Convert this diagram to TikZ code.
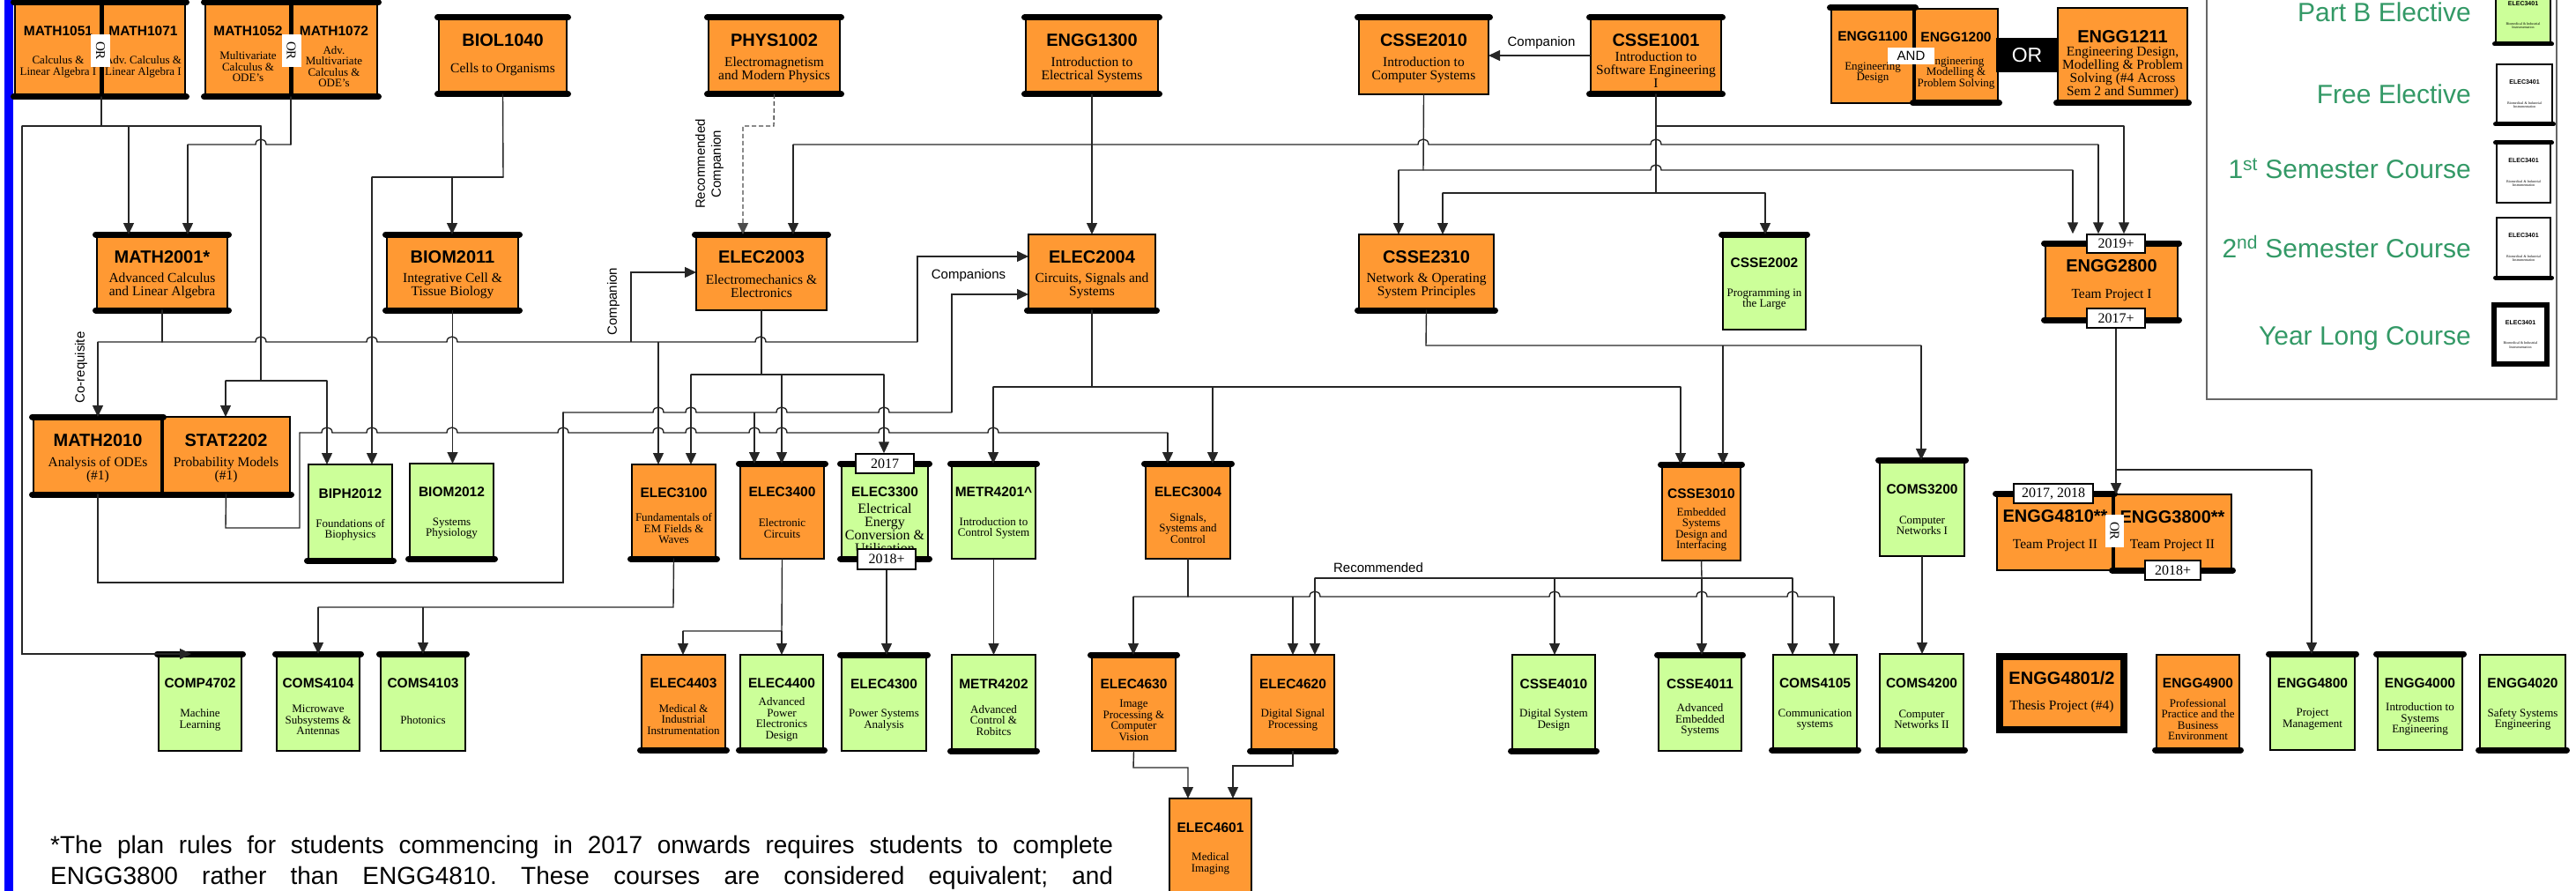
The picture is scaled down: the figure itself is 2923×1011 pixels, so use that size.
\documentclass[tikz,border=0pt]{standalone}
\usepackage{fontspec}
\setmainfont{Liberation Serif}
\setsansfont{Liberation Sans}
\usetikzlibrary{arrows.meta}
\definecolor{orng}{RGB}{255,153,51}
\definecolor{grn}{RGB}{204,255,153}
\definecolor{lgtxt}{RGB}{51,153,102}
\frenchspacing
\tikzset{
 crsbox/.style={draw=black, line width=2.5pt, inner sep=0pt, outer sep=0pt},
 fillO/.style={fill=orng}, fillG/.style={fill=grn}, fillW/.style={fill=white},
 txt/.style={inner sep=0pt, align=center, text=black},
 codeL/.style={font=\sffamily\bfseries\fontsize{20}{22}\selectfont},
 codeS/.style={font=\sffamily\bfseries\fontsize{15.5}{17}\selectfont},
 codeE/.style={codeS},
 codeT/.style={font=\sffamily\bfseries\fontsize{7}{8}\selectfont},
 descL/.style={font=\fontsize{15.5}{15}\selectfont},
 descS/.style={font=\fontsize{13}{12.5}\selectfont},
 descE/.style={font=\fontsize{16}{15}\selectfont},
 descT/.style={font=\fontsize{4}{4.5}\selectfont},
 thickbar/.style={line width=7pt, line cap=round, draw=black},
 conn/.style={draw=black!85, line width=1.4pt, line cap=round},
 arr/.style={draw=black!85, line width=1.4pt, -{Triangle[length=13pt,width=12pt]}},
 yr/.style={draw=black, line width=1.5pt, fill=white, inner sep=0pt, font=\fontsize{16}{18}\selectfont},
 orv/.style={fill=white, inner sep=0pt, rotate=-90, font=\fontsize{15}{16}\selectfont},
 lab/.style={inner sep=0pt, font=\sffamily\fontsize{15}{18}\selectfont},
 legtxt/.style={anchor=base east, inner sep=0pt, text=lgtxt, font=\sffamily\fontsize{30}{32}\selectfont},
 legline/.style={draw=black!60, line width=1.5pt},
 fnote/.style={anchor=base west, inner sep=0pt, font=\sffamily\fontsize{28}{30}\selectfont},
}
\newcommand\hjump[2]{-- ({#1-6},#2) .. controls ({#1-6},{#2-8}) and ({#1+6},{#2-8}) .. ({#1+6},#2)}
\newcommand\course[9]{%
 \node[crsbox, fill#6, minimum width={#4-#2}, minimum height={#5-#3}] (#1) at ({(#2+#4)/2},{(#3+#5)/2}) {};
 \node[txt, code#7] (#1c) at ({(#2+#4)/2},{#3+0.3*(#5-#3)}) {#8};
 \node[txt, desc#7] (#1d) at ({(#2+#4)/2},{#3+0.68*(#5-#3)}) {#9};
}
\newcommand\crsTop[1]{\draw[thickbar] ([xshift=-1.5pt]#1.north west) -- ([xshift=1.5pt]#1.north east);}
\newcommand\crsBot[1]{\draw[thickbar] ([xshift=-1.5pt]#1.south west) -- ([xshift=1.5pt]#1.south east);}
\begin{document}
\begin{tikzpicture}[x=1pt,y=-1pt]
\useasboundingbox (0,0) rectangle (2923,1011);
\clip (0,0) rectangle (2923,1011);
\fill[blue] (5,0) rectangle (15,1011);
% legend frame
\draw[legline] (2504,-5) -- (2504,453) -- (2901,453) -- (2901,-5);
% ---------- courses ----------
\course{m1051}{17}{3}{115}{110}{O}{S}{MATH1051}{Calculus \&\\Linear Algebra I}
\course{m1071}{115}{3}{210}{110}{O}{S}{MATH1071}{Adv. Calculus \&\\Linear Algebra I}
\course{m1052}{233}{3}{330}{110}{O}{S}{MATH1052}{Multivariate\\Calculus \&\\ODE's}
\course{m1072}{330}{3}{428}{110}{O}{S}{MATH1072}{Adv.\\Multivariate\\Calculus \&\\ODE's}
\course{biol1040}{498}{20}{643}{107}{O}{L}{BIOL1040}{Cells to Organisms}
\course{phys1002}{804}{20}{953}{107}{O}{L}{PHYS1002}{Electromagnetism\\and Modern Physics}
\course{engg1300}{1164}{20}{1314}{107}{O}{L}{ENGG1300}{Introduction to\\Electrical Systems}
\course{csse2010}{1542}{20}{1689}{107}{O}{L}{CSSE2010}{Introduction to\\Computer Systems}
\course{csse1001}{1805}{20}{1953}{107}{O}{L}{CSSE1001}{Introduction to\\Software Engineering\\I}
\course{engg1100}{2078}{9}{2172}{117}{O}{S}{ENGG1100}{Engineering\\Design}
\course{engg1200}{2172}{10}{2267}{117}{O}{S}{ENGG1200}{Engineering\\Modelling \&\\Problem Solving}
\course{engg1211}{2335}{9}{2482}{117}{O}{L}{ENGG1211}{Engineering Design,\\Modelling \& Problem\\Solving (\#4 Across\\Sem 2 and Summer)}
\course{math2001}{110}{266}{258}{352}{O}{L}{MATH2001*}{Advanced Calculus\\and Linear Algebra}
\course{biom2011}{439}{266}{588}{352}{O}{L}{BIOM2011}{Integrative Cell \&\\Tissue Biology}
\course{elec2003}{790}{266}{938}{352}{O}{L}{ELEC2003}{Electromechanics \&\\Electronics}
\course{elec2004}{1167}{266}{1311}{352}{O}{L}{ELEC2004}{Circuits, Signals and\\Systems}
\course{csse2310}{1542}{266}{1695}{352}{O}{L}{CSSE2310}{Network \& Operating\\System Principles}
\course{csse2002}{1955}{266}{2049}{374}{G}{S}{CSSE2002}{Programming in\\the Large}
\course{engg2800}{2321}{276}{2471}{363}{O}{L}{ENGG2800}{Team Project I}
\course{math2010}{38}{473}{184}{561}{O}{L}{MATH2010}{Analysis of ODEs\\(\#1)}
\course{stat2202}{184}{473}{329}{561}{O}{L}{STAT2202}{Probability Models\\(\#1)}
\course{biph2012}{350}{527}{445}{636}{G}{S}{BIPH2012}{Foundations of\\Biophysics}
\course{biom2012}{465}{526}{560}{634}{G}{S}{BIOM2012}{Systems\\Physiology}
\course{elec3100}{717}{527}{812}{634}{O}{S}{ELEC3100}{Fundamentals of\\EM Fields \&\\Waves}
\course{elec3400}{840}{526}{935}{634}{O}{S}{ELEC3400}{Electronic\\Circuits}
\course{elec3300}{955}{526}{1053}{634}{G}{E}{ELEC3300}{Electrical\\Energy\\Conversion \&\\Utilisation}
\course{metr4201}{1080}{526}{1175}{634}{G}{S}{METR4201\textasciicircum}{Introduction to\\Control System}
\course{elec3004}{1300}{526}{1396}{634}{O}{S}{ELEC3004}{Signals,\\Systems and\\Control}
\course{csse3010}{1886}{527}{1975}{636}{O}{S}{CSSE3010}{Embedded\\Systems\\Design and\\Interfacing}
\course{coms3200}{2133}{522}{2229}{631}{G}{S}{COMS3200}{Computer\\Networks I}
\course{engg4810}{2266}{560}{2398}{647}{O}{L}{ENGG4810**}{Team Project II}
\course{engg3800}{2398}{561}{2532}{647}{O}{L}{ENGG3800**}{Team Project II}
\course{comp4702}{180}{742}{274}{852}{G}{S}{COMP4702}{Machine\\Learning}
\course{coms4104}{314}{742}{408}{852}{G}{S}{COMS4104}{Microwave\\Subsystems \&\\Antennas}
\course{coms4103}{432}{742}{528}{852}{G}{S}{COMS4103}{Photonics}
\course{elec4403}{728}{743}{823}{851}{O}{S}{ELEC4403}{Medical \&\\Industrial\\Instrumentation}
\course{elec4400}{840}{743}{934}{851}{G}{S}{ELEC4400}{Advanced\\Power\\Electronics\\Design}
\course{elec4300}{955}{743}{1051}{852}{G}{S}{ELEC4300}{Power Systems\\Analysis}
\course{metr4202}{1080}{743}{1175}{852}{G}{S}{METR4202}{Advanced\\Control \&\\Robitcs}
\course{elec4630}{1239}{743}{1334}{852}{O}{S}{ELEC4630}{Image\\Processing \&\\Computer\\Vision}
\course{elec4620}{1420}{743}{1514}{852}{O}{S}{ELEC4620}{Digital Signal\\Processing}
\course{elec4601}{1327}{906}{1420}{1015}{O}{S}{ELEC4601}{Medical\\Imaging}
\course{csse4010}{1716}{743}{1810}{852}{G}{S}{CSSE4010}{Digital System\\Design}
\course{csse4011}{1882}{743}{1976}{852}{G}{S}{CSSE4011}{Advanced\\Embedded\\Systems}
\course{coms4105}{2012}{743}{2107}{851}{G}{S}{COMS4105}{Communication\\systems}
\course{coms4200}{2133}{742}{2228}{851}{G}{S}{COMS4200}{Computer\\Networks II}
\course{engg4801}{2269}{745}{2410}{828}{O}{L}{ENGG4801/2}{Thesis Project (\#4)}
\course{engg4900}{2447}{743}{2541}{851}{O}{S}{ENGG4900}{Professional\\Practice and the\\Business\\Environment}
\course{engg4800}{2576}{742}{2672}{851}{G}{S}{ENGG4800}{Project\\Management}
\course{engg4000}{2698}{742}{2794}{851}{G}{S}{ENGG4000}{Introduction to\\Systems\\Engineering}
\course{engg4020}{2814}{743}{2911}{851}{G}{S}{ENGG4020}{Safety Systems\\Engineering}
% legend samples
\course{lgA}{2832}{-15}{2894}{50}{G}{T}{ELEC3401}{Biomedical \& Industrial\\Instrumentation}
\course{lgB}{2833}{73}{2896}{141}{W}{T}{ELEC3401}{Biomedical \& Industrial\\Instrumentation}
\course{lgC}{2833}{162}{2894}{230}{W}{T}{ELEC3401}{Biomedical \& Industrial\\Instrumentation}
\course{lgD}{2833}{247}{2894}{315}{W}{T}{ELEC3401}{Biomedical \& Industrial\\Instrumentation}
\course{lgE}{2830}{346}{2890}{413}{W}{T}{ELEC3401}{Biomedical \& Industrial\\Instrumentation}
% ---------- semester bars ----------
\draw[thickbar] ([xshift=-1.5pt]m1051.north west) -- ([xshift=1.5pt]m1071.north east);
\draw[thickbar] ([xshift=-1.5pt]m1051.south west) -- ([xshift=1.5pt]m1071.south east);
\draw[thickbar] ([xshift=-1.5pt]m1052.north west) -- ([xshift=1.5pt]m1072.north east);
\draw[thickbar] ([xshift=-1.5pt]m1052.south west) -- ([xshift=1.5pt]m1072.south east);
\draw[line width=5pt] (m1051.north east) -- (m1051.south east);
\draw[line width=5pt] (m1052.north east) -- (m1052.south east);
\draw[thickbar] ([xshift=-1.5pt]math2010.south west) -- ([xshift=1.5pt]stat2202.south east);
\draw[line width=3.5pt] (math2010.north east) -- (math2010.south east);
\draw[line width=3.5pt] (engg1100.north east) -- (engg1100.south east);
\draw[line width=3.5pt] (engg4810.north east) -- (engg4810.south east);
\crsTop{math2010}
\crsTop{biol1040}\crsBot{biol1040}
\crsTop{phys1002}\crsBot{phys1002}
\crsTop{engg1300}\crsBot{engg1300}
\crsTop{csse1001}\crsBot{csse1001}
\crsTop{math2001}\crsBot{math2001}
\crsTop{biom2011}\crsBot{biom2011}
\crsTop{engg2800}\crsBot{engg2800}
\crsTop{elec3300}\crsBot{elec3300}
\crsTop{csse2010}\crsTop{engg1100}\crsTop{elec2003}\crsTop{csse2002}
\crsTop{elec3400}\crsTop{metr4201}\crsTop{elec3004}\crsTop{csse3010}\crsTop{coms3200}\crsTop{engg4810}
\crsTop{comp4702}\crsTop{coms4104}\crsTop{coms4103}\crsTop{elec4300}\crsTop{elec4630}\crsTop{csse4011}
\crsTop{engg4800}\crsTop{engg4000}
\crsBot{engg1200}\crsBot{engg1211}\crsBot{elec2004}\crsBot{csse2310}
\crsBot{biph2012}\crsBot{biom2012}\crsBot{elec3100}\crsBot{engg3800}
\crsBot{elec4403}\crsBot{elec4400}\crsBot{metr4202}\crsBot{elec4620}\crsBot{csse4010}\crsBot{coms4105}
\crsBot{coms4200}\crsBot{engg4900}\crsBot{engg4020}
\draw[line width=8pt] (engg4801.north west) rectangle (engg4801.south east);
\draw[thickbar, line width=5pt] ([xshift=-1.5pt]lgA.south west) -- ([xshift=1.5pt]lgA.south east);
\draw[thickbar, line width=5pt] ([xshift=-1.5pt]lgB.south west) -- ([xshift=1.5pt]lgB.south east);
\draw[thickbar, line width=5pt] ([xshift=-1.5pt]lgC.north west) -- ([xshift=1.5pt]lgC.north east);
\draw[thickbar, line width=5pt] ([xshift=-1.5pt]lgD.south west) -- ([xshift=1.5pt]lgD.south east);
\draw[line width=6pt] (lgE.north west) rectangle (lgE.south east);
% ---------- connectors ----------
% MATH1051/1071
\draw[conn] (m1051.south east) -- (115,143);
\draw[conn] (25,143) -- (296,143);
\draw[arr] (146,143) -- (146,0 |- math2001.north);
\draw[arr] (25,143) -- (25,742) -- (217,0 |- comp4702.north);
\draw[conn] (296,143) -- (296,432);
\draw[conn] (256,432) -- (371,432);
\draw[arr] (256,432) -- (256,0 |- stat2202.north);
\draw[arr] (371,432) -- (371,0 |- biph2012.north);
% MATH1052/1072
\draw[conn] (m1052.south east) -- (330,164);
\draw[conn] (213,164) \hjump{296}{164} -- (330,164);
\draw[arr] (213,164) -- (213,0 |- math2001.north);
% BIOL1040
\draw[conn] (biol1040.south) -- (571,201);
\draw[conn] (422,201) -- (571,201);
\draw[arr] (513,201) -- (513,0 |- biom2011.north);
\draw[arr] (422,201) -- (422,0 |- biph2012.north);
% PHYS1002
\draw[arr, draw=black!70, dash pattern=on 5pt off 3pt] (phys1002.south) -- (878,143) -- (843,143) -- (843,0 |- elec2003.north);
% ENGG1300
\draw[arr] (engg1300.south) -- (engg1300.south |- elec2004.north);
\draw[conn] (900,164) \hjump{1615}{164} \hjump{1879}{164} -- (2381,164);
\draw[arr] (900,164) -- (900,0 |- elec2003.north);
% CSSE2010
\draw[conn] (csse2010.south) -- (1615,193);
\draw[conn] (1587,193) \hjump{1879}{193} -- (2352,193);
\draw[arr] (1587,193) -- (1587,0 |- csse2310.north);
% CSSE1001
\draw[conn] (csse1001.south) -- (1879,219);
\draw[conn] (1879,143) -- (2410,143);
\draw[conn] (1637,219) -- (2003,219);
\draw[arr] (1637,219) -- (1637,0 |- csse2310.north);
\draw[arr] (2003,219) -- (2003,0 |- csse2002.north);
\draw[arr] (csse1001.west |- 0,63) -- (csse2010.east |- 0,63);
% MATH2001
\draw[conn] (math2001.south) -- (184,388);
\draw[conn] (111,388) \hjump{296}{388} \hjump{422}{388} \hjump{513}{388} \hjump{863}{388} -- (1041,388);
\draw[arr] (111,388) -- (111,0 |- math2010.north);
\draw[arr] (716,388) -- (716,309) -- (elec2003.west |- 0,309);
\draw[arr] (747,388) -- (747,0 |- elec3100.north);
\draw[arr] (1041,388) -- (1041,291) -- (elec2004.west |- 0,291);
% ELEC2003
\draw[conn] (elec2003.south) -- (elec2003.south |- 0,425);
\draw[conn] (784,425) -- (1003,425);
\draw[arr] (784,425) -- (784,0 |- elec3100.north);
\draw[arr] (887,425) -- (887,0 |- elec3400.north);
% MATH2010
\draw[conn] (math2010.south) -- (111,661) -- (639,661) -- (639,468);
\draw[conn] (639,468) \hjump{747}{468} \hjump{784}{468} \hjump{887}{468} \hjump{1003}{468} -- (1080,468);
\draw[arr] (856,468) -- (856,0 |- elec3400.north);
\draw[arr] (1080,468) -- (1080,334) -- (elec2004.west |- 0,334);
% STAT2202
\draw[conn] (stat2202.south) -- (256,599) -- (340,599) -- (340,491);
\draw[conn] (340,491) \hjump{371}{491} \hjump{422}{491} \hjump{513}{491} \hjump{639}{491} \hjump{747}{491} \hjump{784}{491} \hjump{856}{491} \hjump{887}{491} \hjump{1003}{491} \hjump{1127}{491} -- (1325,491);
\draw[arr] (1325,491) -- (1325,0 |- elec3004.north);
% BIOM2011
\draw[arr] (biom2011.south) -- (biom2011.south |- biom2012.north);
% ELEC2004
\draw[conn] (elec2004.south) -- (1239,439);
\draw[conn] (1127,439) -- (1907,439);
\draw[arr] (1127,439) -- (1127,0 |- metr4201.north);
\draw[arr] (1376,439) -- (1376,0 |- elec3004.north);
\draw[arr] (1907,439) -- (1907,0 |- csse3010.north);
% CSSE2310
\draw[conn] (csse2310.south) -- (1618,392) -- (2180,392);
\draw[arr] (1955,392) -- (1955,0 |- csse3010.north);
\draw[arr] (2180,392) -- (2180,0 |- coms3200.north);
% ELEC3100
\draw[conn] (elec3100.south) -- (764,689) -- (361,689);
\draw[arr] (361,689) -- (361,0 |- coms4104.north);
\draw[arr] (480,689) -- (480,0 |- coms4103.north);
% ELEC3400
\draw[conn] (elec3400.south) -- (887,716) -- (775,716);
\draw[arr] (887,716) -- (887,0 |- elec4400.north);
\draw[arr] (775,716) -- (775,0 |- elec4403.north);
% METR4201
\draw[arr] (metr4201.south) -- (metr4201.south |- metr4202.north);
% ELEC3004
\draw[conn] (elec3004.south) -- (1348,677);
\draw[conn] (1286,677) \hjump{1492}{677} \hjump{1764}{677} \hjump{1931}{677} \hjump{2034}{677} -- (2081,677);
\draw[arr] (1286,677) -- (1286,0 |- elec4630.north);
\draw[arr] (1467,677) -- (1467,0 |- elec4620.north);
\draw[arr] (2081,677) -- (2081,0 |- coms4105.north);
% CSSE3010
\draw[conn] (csse3010.south) -- (1931,656);
\draw[conn] (1492,656) -- (2034,656);
\draw[arr] (1492,656) -- (1492,0 |- elec4620.north);
\draw[arr] (1764,656) -- (1764,0 |- csse4010.north);
\draw[arr] (1931,656) -- (1931,0 |- csse4011.north);
\draw[arr] (2034,656) -- (2034,0 |- coms4105.north);
% COMS3200
\draw[arr] (coms3200.south) -- (coms3200.south |- coms4200.north);
% ELEC4630 / ELEC4620
\draw[arr] (elec4630.south) -- (1286,871) -- (1348,871) -- (1348,0 |- elec4601.north);
\draw[arr] (elec4620.south) -- (1467,869) -- (1399,869) -- (1399,0 |- elec4601.north);
% ---------- year labels ----------
\node[yr, minimum width=66, minimum height=21] (lab2019) at (2401,276.5) {2019+};
\node[yr, minimum width=66, minimum height=22] (lab2017b) at (2401,361) {2017+};
\node[yr, minimum width=66, minimum height=22] (lab2017) at (1004,526) {2017};
\node[yr, minimum width=66, minimum height=23] (lab2018) at (1006,634.5) {2018+};
\node[yr, minimum width=90, minimum height=22] (lab1718) at (2330,560) {2017, 2018};
\node[yr, minimum width=63, minimum height=22] (lab2018b) at (2465.5,647) {2018+};
% connectors ending at / starting from year labels
\draw[arr] (1003,425) -- (1003,0 |- lab2017.north);
\draw[arr] (2381,164) -- (2381,0 |- lab2019.north);
\draw[arr] (2352,193) -- (2352,0 |- lab2019.north);
\draw[arr] (2410,143) -- (2410,0 |- lab2019.north);
\draw[arr] (lab2018.south) -- (lab2018.south |- elec4300.north);
\draw[arr] (lab2017b.south) -- (lab2017b.south |- engg3800.north);
\draw[conn] (2401,533) -- (2623,533);
\draw[arr] (2623,533) -- (2623,0 |- engg4800.north);
% ---------- OR / AND ----------
\node[orv, minimum width=37, minimum height=22] (or1) at (114,57.5) {OR};
\node[orv, minimum width=37, minimum height=22] (or2) at (330.5,57.5) {OR};
\node[orv, minimum width=37, minimum height=21] (or3) at (2399.5,602.5) {OR};
\node[fill=black, text=white, inner sep=0pt, minimum width=70, minimum height=39, font=\sffamily\fontsize{23}{25}\selectfont] (orbox) at (2300,62.5) {OR};
\node[fill=white, inner sep=0pt, minimum width=53, minimum height=19, font=\sffamily\fontsize{15}{17}\selectfont] (andbox) at (2168.5,63.5) {AND};
% ---------- edge labels ----------
\node[lab] (lcomp1) at (1749,49) {Companion};
\node[lab, rotate=90, align=center] (lrc) at (805,186) {Recommended\\Companion};
\node[lab, rotate=90] (lcomp2) at (696,342) {Companion};
\node[lab, rotate=90] (lcoreq) at (92,417) {Co-requisite};
\node[lab] (lcomps) at (1099,313) {Companions};
\node[lab] (lrec) at (1564,644) {Recommended};
% ---------- legend ----------
\node[legtxt] (lg1) at (2804,25) {Part B Elective};
\node[legtxt] (lg2) at (2804,118) {Free Elective};
\node[legtxt] (lg3) at (2804,203) {1\textsuperscript{st} Semester Course};
\node[legtxt] (lg4) at (2804,292) {2\textsuperscript{nd} Semester Course};
\node[legtxt] (lg5) at (2804,391) {Year Long Course};
% ---------- footnote ----------
\node[fnote] (fn1) at (57,968) {\makebox[1206pt][s]{*The plan rules for students commencing in 2017 onwards requires students to complete}};
\node[fnote] (fn2) at (57,1003) {\makebox[1206pt][s]{ENGG3800 rather than ENGG4810. These courses are considered equivalent; and}};
\end{tikzpicture}
\end{document}
